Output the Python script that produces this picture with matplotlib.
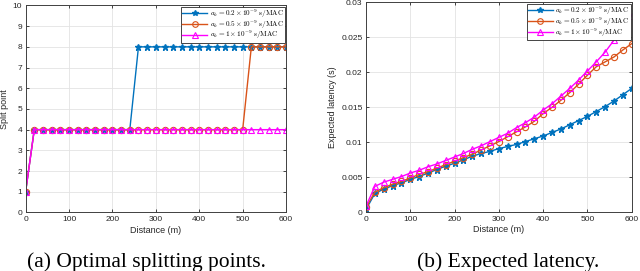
import numpy as np
import matplotlib
matplotlib.use('Agg')
import matplotlib.pyplot as plt

# данные
distance = np.arange(0, 601, 20)

split_02 = [1] + [4] * 12 + [8] * 18
split_05 = [1] + [4] * 25 + [8] * 5
split_10 = [1] + [4] * 30

lat_02 = [0.0004, 0.0027, 0.0033, 0.0038, 0.0042, 0.0047, 0.0051, 0.0056, 0.0061, 0.0066,
          0.0070, 0.0075, 0.0080, 0.0084, 0.0087, 0.0091, 0.0094, 0.0097, 0.0101, 0.0105,
          0.0109, 0.0114, 0.0119, 0.0125, 0.0131, 0.0137, 0.0144, 0.0151, 0.0159, 0.0168,
          0.0177]
lat_05 = [0.0007, 0.0029, 0.0035, 0.0040, 0.0044, 0.0049, 0.0054, 0.0058, 0.0063, 0.0068,
          0.0073, 0.0078, 0.0083, 0.0089, 0.0095, 0.0101, 0.0108, 0.0115, 0.0122, 0.0130,
          0.0141, 0.0150, 0.0160, 0.0171, 0.0183, 0.0196, 0.0208, 0.0215, 0.0222, 0.0232,
          0.0241]
lat_10 = [0.0009, 0.0037, 0.0043, 0.0047, 0.0051, 0.0056, 0.0060, 0.0065, 0.0069, 0.0074,
          0.0079, 0.0084, 0.0090, 0.0095, 0.0101, 0.0107, 0.0113, 0.0121, 0.0128, 0.0136,
          0.0146, 0.0155, 0.0166, 0.0177, 0.0189, 0.0202, 0.0215, 0.0229, 0.0246, 0.0263,
          0.0281]

labels = [r'$a_k = 0.2 \times 10^{-9}\ \mathrm{s/MAC}$',
          r'$a_k = 0.5 \times 10^{-9}\ \mathrm{s/MAC}$',
          r'$a_k = 1 \times 10^{-9}\ \mathrm{s/MAC}$']

blue = '#0072BD'
orange = '#D95319'
magenta = '#FF00FF'
tick_col = '#262626'

plt.rcParams['font.family'] = 'Liberation Sans'
plt.rcParams['mathtext.fontset'] = 'cm'

fig = plt.figure(figsize=(6.4, 2.71), dpi=100)
ax1 = fig.add_axes([0.040, 0.216, 0.407, 0.764])
ax2 = fig.add_axes([0.572, 0.217, 0.415, 0.774])


def style(ax):
    ax.grid(True, color='#e3e3e3', linewidth=0.6)
    ax.set_axisbelow(True)
    ax.tick_params(direction='in', top=True, right=True, labelsize=6,
                   colors=tick_col, length=2.5, width=0.6, pad=2.5)
    for s in ax.spines.values():
        s.set_color('#404040')
        s.set_linewidth(0.7)
    ax.set_xlim(0, 600)
    ax.set_xticks(np.arange(0, 601, 100))
    ax.set_xlabel('Distance (m)', fontsize=6.5, color=tick_col, labelpad=2)


def draw(ax, s1, s2, s3):
    ax.plot(distance, s1, '-', color=blue, marker='*', ms=4.5, mfc=blue, mec=blue, lw=1, label=labels[0])
    ax.plot(distance, s2, '-', color=orange, marker='o', ms=4.5, mfc='none', mec=orange, mew=0.8, lw=1, label=labels[1])
    ax.plot(distance, s3, '-', color=magenta, marker='^', ms=4.5, mfc='none', mec=magenta, mew=0.8, lw=1, label=labels[2])
    leg = ax.legend(loc='upper right', fontsize=5.2, handlelength=3.4, borderpad=0.15,
                    labelspacing=-0.2, handletextpad=0.4, borderaxespad=0.15, fancybox=False,
                    edgecolor='#262626', framealpha=1, markerscale=0.9)
    leg.get_frame().set_linewidth(0.6)


# График точек разбиения
draw(ax1, split_02, split_05, split_10)
style(ax1)
ax1.set_ylim(0, 10)
ax1.set_yticks(np.arange(0, 11, 1))
ax1.set_ylabel('Split point', fontsize=6.5, color=tick_col, labelpad=2.5)

# График задержки
draw(ax2, lat_02, lat_05, lat_10)
style(ax2)
ax2.set_ylim(0, 0.03)
ax2.set_yticks([0, 0.005, 0.01, 0.015, 0.02, 0.025, 0.03])
ax2.set_yticklabels(['0', '0.005', '0.01', '0.015', '0.02', '0.025', '0.03'])
ax2.set_ylabel('Expected latency (s)', fontsize=6.5, color=tick_col, labelpad=3)

# подписи
fig.text(146 / 640, 1 - 267 / 271, '(a) Optimal splitting points.', ha='center', va='baseline',
         fontsize=15.5, family='Liberation Serif')
fig.text(508 / 640, 1 - 267 / 271, '(b) Expected latency.', ha='center', va='baseline',
         fontsize=15.5, family='Liberation Serif')

fig.savefig('out.png', dpi=100)
